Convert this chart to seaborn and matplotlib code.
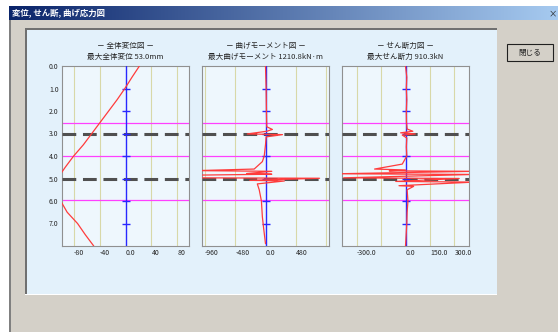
import numpy as np
import matplotlib
matplotlib.use("Agg")
import matplotlib.pyplot as plt
from matplotlib.patches import Rectangle
import seaborn as sns

# data
depth_ticks = [0, 10, 20, 30, 40, 50, 60, 70]
depth_labels = ["0.0", "1.0", "2.0", "3.0", "4.0", "5.0", "6.0", "7.0"]
layer_depths = [25.5, 40, 59.5]      # magenta lines
level_depths = [30, 50]              # dashed black lines
pile_marks = [10, 20, 30, 40, 50, 60, 70]

disp_depth = [0, 5, 10, 15, 20, 25, 30, 35, 40, 45, 50, 55, 60, 65, 70, 75, 80]
disp_value = [21.5, 10, -1, -13, -26, -39, -52, -65, -80, -93, -105, -110, -100, -90, -74, -62, -49]

moment_depth = [0, 10, 20, 27, 28.2, 29, 30.2, 30.5, 31.5, 35, 40, 42.5, 45.8, 46.5, 46.8, 47.8,
                48.1, 48.5, 49.7, 49.9, 50.8, 51.1, 52.4, 55, 60, 67, 72, 79]
moment_value = [0, 10, 15, 20, 110, 20, -290, 270, 10, 0, -20, -50, -180, -1100, 100, -300,
                100, -1100, -1100, 860, -250, 300, -130, -100, -65, -50, -30, 0]

shear_depth = [0, 5, 10, 15, 20, 25, 28, 29, 29.7, 30.2, 30.7, 32, 36, 40, 43.6, 45.8, 46.2, 46.6,
               46.8, 47.9, 48.2, 49.7, 50.0, 51.3, 51.6, 53.2, 53.5, 55, 60, 65, 70, 75, 80]
shear_value = [0, 8, 5, 8, 5, 6, 10, 45, -30, 60, -20, 8, 5, 8, -20, -190, 0, -100,
               420, -420, 420, -380, 330, -60, 420, -40, 50, 10, 15, 10, 8, 4, 0]

panels = [
    dict(name="－ 全体変位図 －", sub="最大全体変位 53.0mm", d=disp_depth, v=disp_value,
         lim=98, ticks=[-80, -40, 0, 40, 80], labels=["-80", "-40", "0.0", "40", "80"],
         box=(62, 66, 189, 246)),
    dict(name="－ 曲げモーメント図 －", sub="最大曲げモーメント 1210.8kN·m", d=moment_depth, v=moment_value,
         lim=1010, ticks=[-960, -480, 0, 480, 960], labels=["-960", "-480", "0.0", "480", ""],
         box=(202, 66, 329, 246)),
    dict(name="－ せん断力図 －", sub="最大せん断力 910.3kN", d=shear_depth, v=shear_value,
         lim=390, ticks=[-300, -150, 0, 150, 300], labels=["-300.0", "", "0.0", "150.0", "300.0"],
         box=(342, 66, 469, 246)),
]

sns.set_style("white")
plt.rcParams['font.family'] = ['Noto Sans CJK JP', 'DejaVu Sans']

W, H = 558, 332
fig = plt.figure(figsize=(W / 100, H / 100), dpi=100)
fig.patch.set_facecolor("white")


def rect(x0, y0, x1, y1, z=-5, **kw):
    fig.add_artist(Rectangle((x0 / W, 1 - y1 / H), (x1 - x0) / W, (y1 - y0) / H,
                             transform=fig.transFigure, zorder=z, **kw))


# window body
rect(9, 6, 558, 332, facecolor="#d4d0c8", edgecolor="none")
rect(9, 20, 10.5, 332, facecolor="#808080", edgecolor="none")
# title bar gradient
bar = fig.add_axes([9 / W, 1 - 20 / H, (558 - 9) / W, 14 / H])
grad = np.linspace(0, 1, 256).reshape(1, -1)
cmap = matplotlib.colors.LinearSegmentedColormap.from_list("tb", ["#0a246a", "#a6caf0"])
bar.imshow(grad, aspect="auto", cmap=cmap, extent=[0, 1, 0, 1])
bar.set_axis_off()
fig.text(12 / W, 1 - 13.5 / H, "変位, せん断, 曲げ応力図", color="white", fontsize=6,
         fontweight="bold", va="center")
fig.text(553 / W, 1 - 13.5 / H, "×", color="#202020", fontsize=6, va="center", ha="center")

# inner panel
rect(25, 28, 497, 295, facecolor="#e3f1fb", edgecolor="none", z=-4)
rect(25, 28, 497, 29.5, facecolor="#707070", edgecolor="none", z=-3)
rect(25, 28, 26.5, 295, facecolor="#707070", edgecolor="none", z=-3)
rect(25, 293.5, 497, 295, facecolor="#ffffff", edgecolor="none", z=-3)

# close button
rect(507, 44, 553, 61, facecolor="#d4d0c8", edgecolor="#202020", linewidth=0.8, z=-3)
fig.text(530 / W, 1 - 52.5 / H, "閉じる", fontsize=5.5, ha="center", va="center")

for i, p in enumerate(panels):
    x0, y0, x1, y1 = p["box"]
    ax = fig.add_axes([x0 / W, 1 - y1 / H, (x1 - x0) / W, (y1 - y0) / H])
    ax.set_facecolor("#eef7fd")
    for s in ax.spines.values():
        s.set_color("#909090")
        s.set_linewidth(0.8)

    for t in p["ticks"]:
        if t != 0:
            ax.axvline(t, color="#d8d8a8", linewidth=0.8, zorder=1)
    for yd in layer_depths:
        ax.axhline(yd, color="#ff40ff", linewidth=0.9, zorder=2)
    for yd in level_depths:
        ax.axhline(yd, color="#505050", linewidth=2.2, dashes=(4.5, 2.2), zorder=3)

    # pile axis
    ax.plot([0, 0], [0, 80], color="#2828ff", linewidth=1.0, zorder=4)
    ax.plot([0] * len(pile_marks), pile_marks, linestyle="none", marker="_",
            markersize=6, markeredgewidth=1.0, color="#2828ff", zorder=4)

    sns.lineplot(x=p["v"], y=p["d"], sort=False, estimator=None, orient="y",
                 color="#ff3c3c", linewidth=0.9, ax=ax, zorder=5)

    ax.set_xlim(-p["lim"], p["lim"])
    ax.set_ylim(80, 0)
    ax.set_xticks(p["ticks"])
    ax.set_xticklabels(p["labels"], fontsize=5)
    for lab in ax.get_xticklabels():
        lab.set_horizontalalignment("left")
    ax.set_yticks(depth_ticks)
    if i == 0:
        ax.set_yticklabels(depth_labels, fontsize=5)
    else:
        ax.set_yticklabels([])
    ax.tick_params(length=0, pad=2.5)
    ax.set_xlabel("")
    ax.set_ylabel("")

    cx = (x0 + x1) / 2 / W
    fig.text(cx, 1 - 46 / H, p["name"], fontsize=5.5, ha="center", va="center")
    fig.text(cx, 1 - 57 / H, p["sub"], fontsize=5.5, ha="center", va="center")

fig.savefig("out.png", dpi=100)
